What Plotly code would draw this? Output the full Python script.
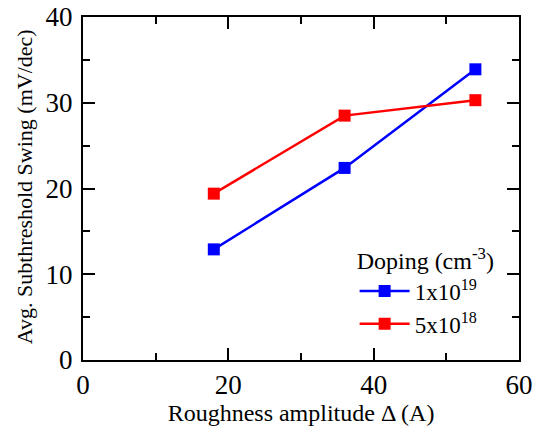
import plotly.graph_objects as go

roughness = [18, 36, 54]
ss_1e19 = [12.9, 22.4, 33.9]
ss_5e18 = [19.4, 28.5, 30.3]
series_names = ["1x10<sup>19</sup>", "5x10<sup>18</sup>"]
legend_title = "Doping (cm<sup>-3</sup>)"
x_title = "Roughness amplitude Δ (A)"
y_title = "Avg. Subthreshold Swing (mV/dec)"

FONT = "'Times New Roman', 'Liberation Serif', serif"

fig = go.Figure()
fig.add_trace(go.Scatter(x=roughness, y=ss_1e19, mode="lines+markers", name=series_names[0],
                         line=dict(color="#0000ff", width=2.5),
                         marker=dict(symbol="square", size=12, color="#0000ff")))
fig.add_trace(go.Scatter(x=roughness, y=ss_5e18, mode="lines+markers", name=series_names[1],
                         line=dict(color="#ff0000", width=2.5),
                         marker=dict(symbol="square", size=12, color="#ff0000")))

axis_common = dict(showline=True, linecolor="black", linewidth=2, mirror="ticks",
                   ticks="inside", ticklen=12, tickwidth=2, tickcolor="black",
                   showgrid=False, zeroline=False, automargin=False,
                   tickfont=dict(family=FONT, size=27, color="black"))

fig.update_xaxes(range=[0, 60], tickvals=[0, 20, 40, 60],
                 minor=dict(ticks="inside", ticklen=7, tickwidth=2, tickcolor="black", dtick=10, tick0=0),
                 title=dict(text=x_title, font=dict(family=FONT, size=24, color="black"), standoff=2),
                 **axis_common)
fig.update_yaxes(range=[0, 40], tickvals=[0, 10, 20, 30, 40],
                 minor=dict(ticks="inside", ticklen=7, tickwidth=2, tickcolor="black", dtick=5, tick0=0),
                 ticklabelstandoff=3,
                 **axis_common)

fig.add_annotation(text=y_title, xref="paper", yref="paper", x=-0.135, y=0.504,
                   xanchor="center", yanchor="middle", textangle=-90, showarrow=False,
                   font=dict(family=FONT, size=22, color="black"))

fig.update_layout(
    width=544, height=430,
    margin=dict(l=83, r=25, t=17, b=70, autoexpand=False),
    paper_bgcolor="white", plot_bgcolor="white",
    font=dict(family=FONT, color="black"),
    legend=dict(title=dict(text=legend_title, font=dict(family=FONT, size=24)),
                font=dict(family=FONT, size=23),
                x=0.623, y=0.355, xanchor="left", yanchor="top",
                bgcolor="rgba(0,0,0,0)", itemwidth=50, tracegroupgap=0),
)

fig.write_html("out.html")
